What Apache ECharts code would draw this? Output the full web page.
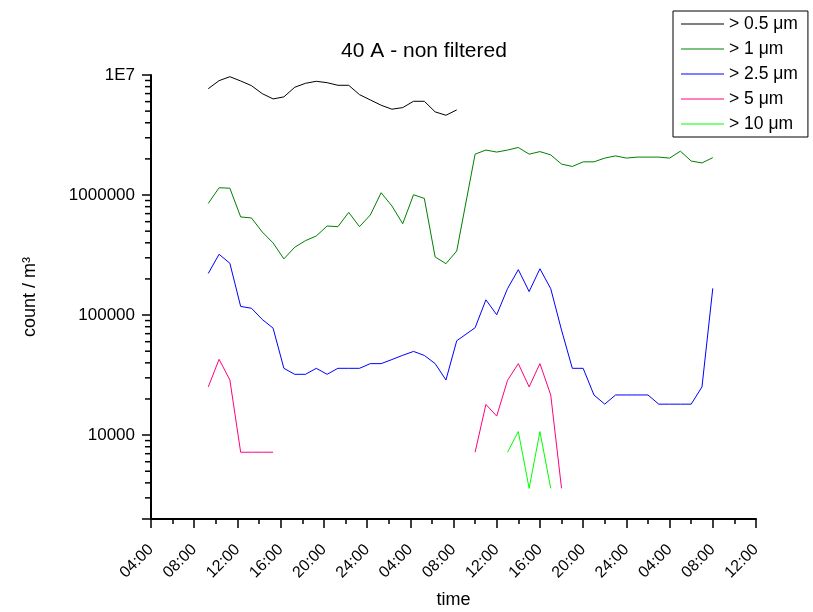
<!DOCTYPE html>
<html><head><meta charset="utf-8">
<script src="https://cdn.jsdelivr.net/npm/echarts@6/dist/echarts.min.js"></script>
<style>html,body{margin:0;padding:0;background:#fff}#c{width:813px;height:612px}</style>
</head><body><div id="c"></div>
<script>
// hours since 00:00 of day 1
const times = [9.3,10.3,11.3,12.3,13.3,14.3,15.3,16.3,17.3,18.3,19.3,20.3,21.3,22.3,23.3,24.3,25.3,26.3,27.3,28.3,29.3,30.3,31.3,32.3,
  34,35,36,37,38,39,40,41,42,43,44,45,46,47,48,49,50,51,52,53,54,55,56];
const gt05 = [7.69e6,8.97e6,9.68e6,8.92e6,8.15e6,6.99e6,6.32e6,6.57e6,7.90e6,8.53e6,8.86e6,8.63e6,8.21e6,8.21e6,6.86e6,6.20e6,5.60e6,5.19e6,5.35e6,6.04e6,6.04e6,4.93e6,4.62e6,5.12e6];
const gt1 = [8.51e5,1.15e6,1.14e6,6.57e5,6.44e5,4.92e5,3.99e5,2.94e5,3.67e5,4.17e5,4.56e5,5.52e5,5.45e5,7.17e5,5.45e5,6.82e5,1.045e6,8.11e5,5.77e5,1.006e6,9.37e5,3.05e5,2.68e5,3.42e5,
  2.19e6,2.37e6,2.28e6,2.37e6,2.49e6,2.19e6,2.30e6,2.16e6,1.81e6,1.73e6,1.89e6,1.89e6,2.03e6,2.12e6,2.03e6,2.07e6,2.07e6,2.07e6,2.03e6,2.32e6,1.92e6,1.85e6,2.05e6];
const gt25 = [2.22e5,3.21e5,2.70e5,1.18e5,1.14e5,9.19e4,7.78e4,3.60e4,3.21e4,3.21e4,3.60e4,3.21e4,3.60e4,3.60e4,3.60e4,3.94e4,3.94e4,4.26e4,4.62e4,4.98e4,4.61e4,3.94e4,2.88e4,6.11e4,
  7.84e4,1.34e5,1.006e5,1.66e5,2.39e5,1.57e5,2.43e5,1.66e5,7.49e4,3.60e4,3.60e4,2.16e4,1.81e4,2.16e4,2.16e4,2.16e4,2.16e4,1.81e4,1.81e4,1.81e4,1.81e4,2.52e4,1.67e5];
const gt5 = [2.52e4,4.28e4,2.88e4,7.2e3,7.2e3,7.2e3,7.2e3,null,null,null,null,null,null,null,null,null,null,null,null,null,null,null,null,null,
  7.2e3,1.80e4,1.44e4,2.86e4,3.94e4,2.52e4,3.94e4,2.16e4,3.6e3];
const gt10 = [null,null,null,null,null,null,null,null,null,null,null,null,null,null,null,null,null,null,null,null,null,null,null,null,
  null,null,null,7.2e3,1.07e4,3.6e3,1.07e4,3.6e3];
const seriesNames = ['> 0.5 \u03bcm','> 1 \u03bcm','> 2.5 \u03bcm','> 5 \u03bcm','> 10 \u03bcm'];
const xTickLabels = ['04:00','08:00','12:00','16:00','20:00','24:00','04:00','08:00','12:00','16:00','20:00','24:00','04:00','08:00','12:00'];
const yTickLabels = {10000:'10000',100000:'100000',1000000:'1000000',10000000:'1E7'};
const yMinorTicks = [3000,4000,5000,6000,7000,8000,9000,
  20000,30000,40000,50000,60000,70000,80000,90000,
  200000,300000,400000,500000,600000,700000,800000,900000,
  2000000,3000000,4000000,5000000,6000000,7000000,8000000,9000000];

const FONT = 'Liberation Sans, Arial, sans-serif';
const colors = ['#000000','#008000','#0000ff','#ff0080','#00ff00'];
const all = [gt05, gt1, gt25, gt5, gt10];
const X_MIN = 4, X_MAX = 60;

function mk(arr){
  return times.map((t,i)=>[t, (arr[i]==null ? '-' : arr[i])]);
}

const chart = echarts.init(document.getElementById('c'), null, {renderer:'canvas'});
const series = all.map((arr,i)=>({name:seriesNames[i], type:'line', symbol:'none', showSymbol:false,
    connectNulls:false, data:mk(arr), color:colors[i], lineStyle:{color:colors[i], width:1}, itemStyle:{color:colors[i]}}));
// minor log ticks on the y axis, placed through the library's own scale
series.push({type:'custom', silent:true, clip:false, z:5,
  data: yMinorTicks.map(v=>[X_MIN, v]),
  renderItem:(params, api)=>{
    const p = api.coord([api.value(0), api.value(1)]);
    return {type:'line', shape:{x1:p[0]-6, y1:p[1], x2:p[0], y2:p[1]}, style:{stroke:'#000', lineWidth:1.5}};
  }});

chart.setOption({
  animation:false,
  backgroundColor:'#fff',
  textStyle:{fontFamily:FONT},
  title:{text:'40 A - non filtered', left:424, textAlign:'center', top:41, padding:0,
    textStyle:{fontFamily:FONT, fontSize:21, fontWeight:'normal', color:'#000'}},
  legend:{orient:'vertical', left:673, top:11, padding:[4,10,4,8], itemWidth:43, itemHeight:1, itemGap:7,
    icon:'rect', borderColor:'#000', borderWidth:1, data:seriesNames,
    textStyle:{fontFamily:FONT, fontSize:17.5, color:'#000', lineHeight:18}},
  grid:{left:151, right:57, top:75, bottom:93, containLabel:false, outerBoundsMode:'none'},
  xAxis:{type:'value', min:X_MIN, max:X_MAX, interval:4, name:'time', nameLocation:'middle', nameGap:72,
    nameTextStyle:{fontFamily:FONT, fontSize:18, color:'#000'},
    axisLine:{show:true, onZero:false, lineStyle:{color:'#000', width:2}},
    axisTick:{show:true, inside:false, length:9, lineStyle:{color:'#000', width:1.5}},
    minorTick:{show:true, splitNumber:2, length:5, lineStyle:{color:'#000', width:1.5}},
    splitLine:{show:false}, minorSplitLine:{show:false},
    axisLabel:{rotate:45, margin:28, fontFamily:FONT, fontSize:16, color:'#000', showMinLabel:true, showMaxLabel:true,
      formatter:v=>xTickLabels[Math.round((v-4)/4)] || ''}},
  yAxis:{type:'log', logBase:10, min:2000, max:1e7, name:'count / m\u00b3', nameLocation:'middle', nameGap:112,
    nameTextStyle:{fontFamily:FONT, fontSize:18, color:'#000'},
    axisLine:{show:true, onZero:false, lineStyle:{color:'#000', width:2}},
    axisTick:{show:true, length:9, lineStyle:{color:'#000', width:1.5}},
    splitLine:{show:false},
    axisLabel:{margin:16, fontFamily:FONT, fontSize:17, color:'#000',
      formatter:v=>{const k=Math.round(v); return yTickLabels[k] || '';}}},
  series: series
});
</script></body></html>
